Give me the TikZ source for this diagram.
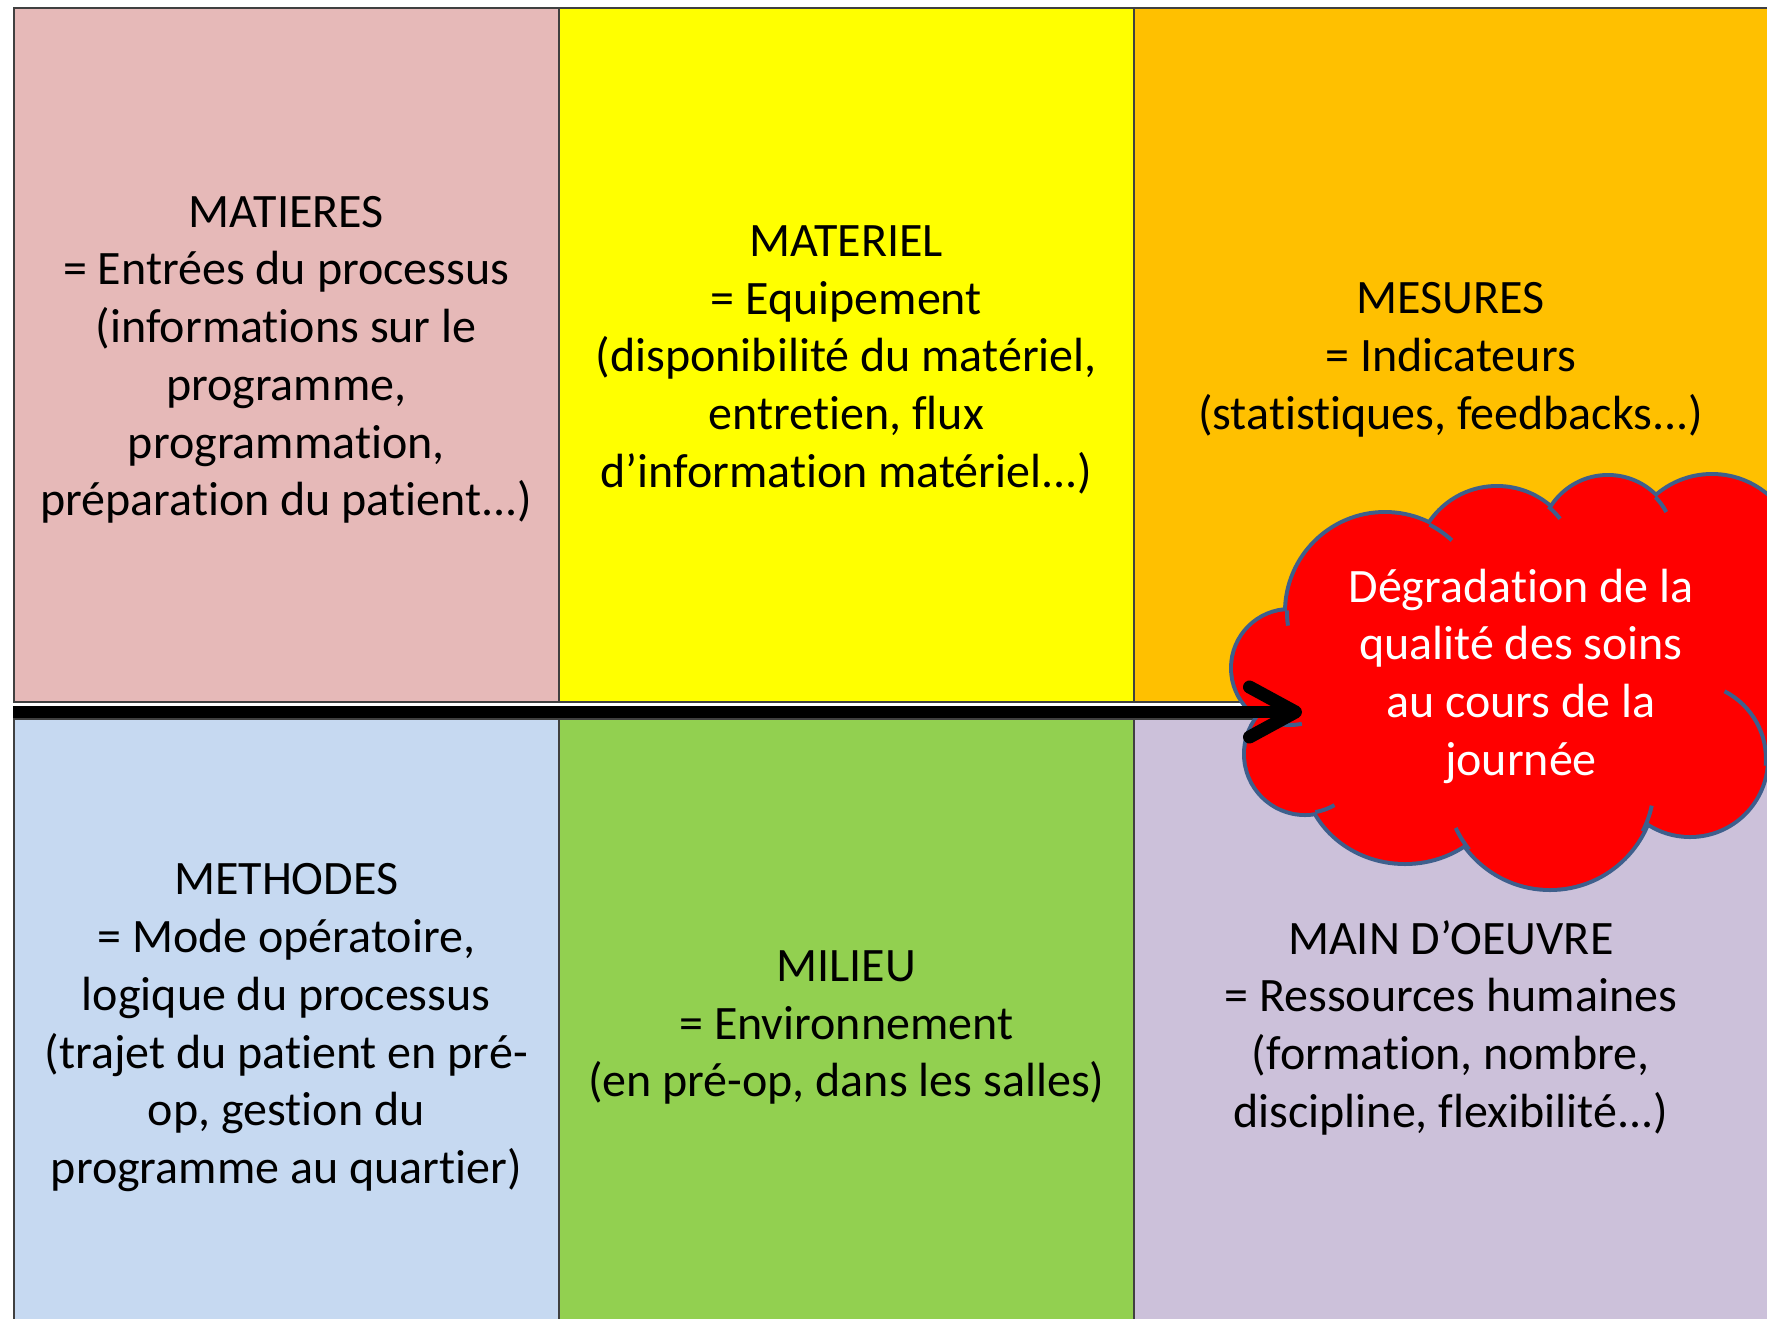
\documentclass[tikz,border=0pt]{standalone}
\usepackage{fontspec}
\setmainfont{Carlito}[Ligatures=CommonOff]
\usetikzlibrary{arrows.meta}

\definecolor{pinkbox}{HTML}{E6B9B8}
\definecolor{yellowbox}{HTML}{FFFF00}
\definecolor{orangebox}{HTML}{FFC000}
\definecolor{bluebox}{HTML}{C6D9F1}
\definecolor{greenbox}{HTML}{92D050}
\definecolor{lilacbox}{HTML}{CCC1DA}
\definecolor{cloudred}{HTML}{FF0000}
\definecolor{cloudline}{HTML}{3E5F8C}
\definecolor{boxline}{HTML}{404040}

\begin{document}
\begin{tikzpicture}[x=1pt,y=-1pt,
  cell/.style={draw=boxline, line width=1.5pt, anchor=north west, inner sep=0pt},
  toprow/.style={cell, minimum height=694pt},
  bottomrow/.style={cell, minimum height=608pt},
  celltext/.style={align=center, text=black, inner sep=0pt, yshift=-5pt,
    font=\fontsize{48}{57.7}\selectfont},
  cloudbumps/.style={insert path={
    (1385,612) circle[radius=98]
    (1497,568) circle[radius=80]
    (1608,543) circle[radius=66]
    (1712,560) circle[radius=84]
    (1690,759) circle[radius=76]
    (1550,784) circle[radius=104]
    (1405,770) circle[x radius=100, y radius=92]
    (1305,754) circle[radius=59]
    (1290,668) circle[radius=57]}},
  cloudcore/.style={insert path={
    (1300,620) -- (1390,560) -- (1500,540) -- (1610,560) -- (1700,560) --
    (1767,560) -- (1767,750) -- (1720,740) -- (1640,800) -- (1550,830) --
    (1420,820) -- (1320,780) -- (1290,700) -- cycle}},
  tail/.style={draw=cloudline, line width=4pt},
  cloudtext/.style={align=center, text=white, inner sep=0pt,
    font=\fontsize{48}{57.7}\selectfont},
  flow/.style={line width=12pt, draw=black,
    -{Straight Barb[length=46pt, width=50pt, line width=13pt, round]}}
]
\useasboundingbox (0,0) rectangle (1767,1318);
\clip (0,0) rectangle (1767,1318);
\fill[white] (0,0) rectangle (1767,1318);

% the six category cells
\node[toprow, fill=pinkbox, minimum width=545pt] (matieres) at (13,7) {};
\node[toprow, fill=yellowbox, minimum width=575pt] (materiel) at (558,7) {};
\node[toprow, fill=orangebox, minimum width=634pt] (mesures) at (1133,7) {};
\node[bottomrow, fill=bluebox, minimum width=545pt] (methodes) at (13,718) {};
\node[bottomrow, fill=greenbox, minimum width=575pt] (milieu) at (558,718) {};
\node[bottomrow, fill=lilacbox, minimum width=634pt] (mainoeuvre) at (1133,718) {};

% their descriptions
\node[celltext] (matieres-text) at (matieres.center)
  {MATIERES\\= Entrées du processus\\(informations sur le\\programme,\\programmation,\\préparation du patient...)};
\node[celltext] (materiel-text) at (materiel.center)
  {MATERIEL\\= Equipement\\(disponibilité du matériel,\\entretien, flux\\d’information matériel...)};
\node[celltext] (mesures-text) at (mesures.center)
  {MESURES\\= Indicateurs\\(statistiques, feedbacks...)};
\node[celltext] (methodes-text) at (methodes.center)
  {METHODES\\= Mode opératoire,\\logique du processus\\(trajet du patient en pré-\\op, gestion du\\programme au quartier)};
\node[celltext] (milieu-text) at (milieu.center)
  {MILIEU\\= Environnement\\(en pré-op, dans les salles)};
\node[celltext] (mainoeuvre-text) at (mainoeuvre.center)
  {MAIN D’OEUVRE\\= Ressources humaines\\(formation, nombre,\\discipline, flexibilité...)};

% cloud: outline first, then the red body covering the inner half of the outline
\draw[draw=cloudline, line width=8pt, cloudbumps];
\fill[cloudred, cloudbumps];
\fill[cloudred, cloudcore];

% short inner arcs of the cloud
\draw[tail] (1385,612) ++(172:98) arc[start angle=172, end angle=181, radius=98];
\draw[tail] (1385,612) ++(297:98) arc[start angle=297, end angle=313, radius=98];
\draw[tail] (1497,568) ++(310:80) arc[start angle=310, end angle=322, radius=80];
\draw[tail] (1608,543) ++(316:66) arc[start angle=316, end angle=332, radius=66];
\draw[tail] (1690,759) ++(297:76) arc[start angle=297, end angle=365, radius=76];
\draw[tail] (1550,784) ++(12:104) arc[start angle=12, end angle=27, radius=104];
\draw[tail] (1550,784) ++(141:104) arc[start angle=141, end angle=155, radius=104];
\draw[tail] (1305,754) ++(60:59) arc[start angle=60, end angle=80, radius=59];
\draw[tail] (1290,668) ++(78:57) arc[start angle=78, end angle=102, radius=57];

% time arrow running into the cloud
\coordinate (flowstart) at (13,712);
\coordinate (flowtip) at (1302,712);
\draw[flow] (flowstart) -- (flowtip);

\node[cloudtext] (degradation) at (1521,676)
  {Dégradation de la\\qualité des soins\\au cours de la\\journée};
\end{tikzpicture}
\end{document}
